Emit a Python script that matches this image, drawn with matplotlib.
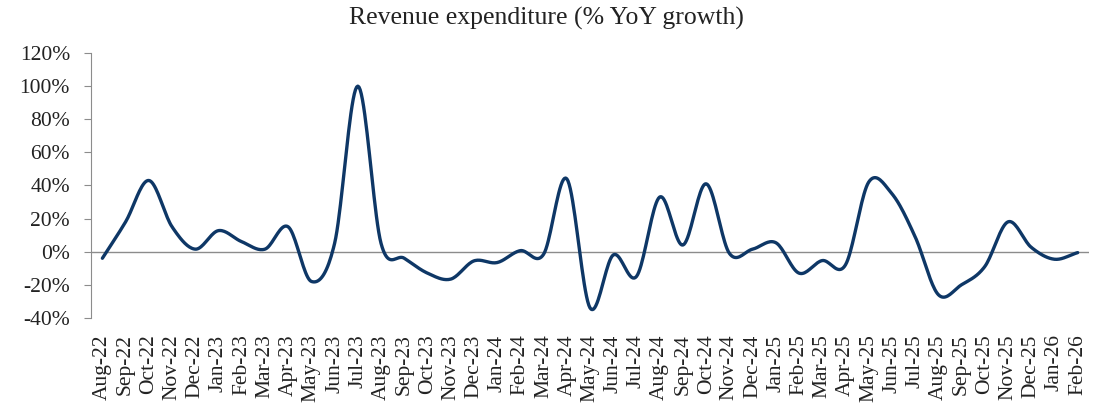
import matplotlib
matplotlib.use("Agg")
import matplotlib.pyplot as plt
import numpy as np

months = ["Aug-22", "Sep-22", "Oct-22", "Nov-22", "Dec-22", "Jan-23", "Feb-23", "Mar-23",
          "Apr-23", "May-23", "Jun-23", "Jul-23", "Aug-23", "Sep-23", "Oct-23", "Nov-23",
          "Dec-23", "Jan-24", "Feb-24", "Mar-24", "Apr-24", "May-24", "Jun-24", "Jul-24",
          "Aug-24", "Sep-24", "Oct-24", "Nov-24", "Dec-24", "Jan-25", "Feb-25", "Mar-25",
          "Apr-25", "May-25", "Jun-25", "Jul-25", "Aug-25", "Sep-25", "Oct-25", "Nov-25",
          "Dec-25", "Jan-26", "Feb-26"]

growth = [-4, 18, 43, 15, 1.5, 12.7, 6, 1.5,
          15, -18, 5, 100, 5, -4, -13, -16.6,
          -5.6, -6.6, 0.6, -1.6, 44, -34, -2, -15,
          33, 4, 41, -1, 1.5, 5.4, -13, -5.4,
          -8, 42, 35, 9, -26, -20, -9, 18,
          2.6, -4.6, -0.6]


# smooth line like Excel (Catmull-Rom through the points)
def smooth(x, y, n=20):
    x = np.asarray(x, float)
    y = np.asarray(y, float)
    px = np.concatenate([[2 * x[0] - x[1]], x, [2 * x[-1] - x[-2]]])
    py = np.concatenate([[2 * y[0] - y[1]], y, [2 * y[-1] - y[-2]]])
    xs, ys = [], []
    t = np.linspace(0, 1, n, endpoint=False)
    for i in range(1, len(px) - 2):
        for p, out in ((px, xs), (py, ys)):
            p0, p1, p2, p3 = p[i - 1], p[i], p[i + 1], p[i + 2]
            out.extend(0.5 * (2 * p1 + (-p0 + p2) * t
                              + (2 * p0 - 5 * p1 + 4 * p2 - p3) * t ** 2
                              + (-p0 + 3 * p1 - 3 * p2 + p3) * t ** 3))
    xs.append(x[-1])
    ys.append(y[-1])
    return np.array(xs), np.array(ys)


plt.rcParams['font.family'] = ['Liberation Serif', 'DejaVu Serif']

fig = plt.figure(figsize=(11.07, 4.08), dpi=100)
ax = fig.add_axes([0.082, 0.221, 0.902, 0.649])

x = np.arange(len(months))
sx, sy = smooth(x, growth)
ax.plot(sx, sy, color='#0E3766', linewidth=2.4, solid_capstyle='round')
ax.axhline(0, color='#8C8C8C', linewidth=1.0, zorder=0)

ax.set_xlim(-0.5, len(months) - 0.5)
ax.set_ylim(-40, 120)
ax.set_yticks(np.arange(-40, 121, 20))
ax.set_yticklabels([f"{v}%" for v in range(-40, 121, 20)], fontsize=15.5, color='#222222')
ax.set_xticks(x)
ax.set_xticklabels(months, rotation=90, fontsize=15.5, color='#222222')
ax.tick_params(axis='x', length=0, pad=12)
ax.tick_params(axis='y', length=5, color='#8C8C8C', pad=10)

for s in ['top', 'right', 'bottom']:
    ax.spines[s].set_visible(False)
ax.spines['left'].set_color('#8C8C8C')

fig.text(0.494, 0.955, "Revenue expenditure (% YoY growth)", ha='center', va='center',
         fontsize=18.5, color='#222222')

fig.savefig("out.png", dpi=100)
